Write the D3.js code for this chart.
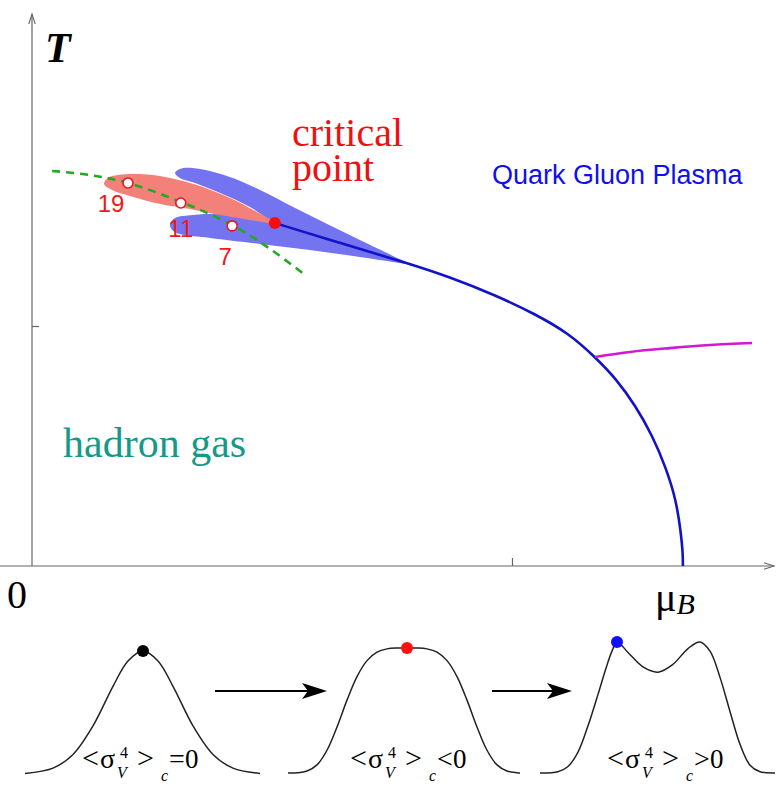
<!DOCTYPE html>
<html><head><meta charset="utf-8">
<script src="https://cdn.jsdelivr.net/npm/d3@7"></script>
<style>body{margin:0;background:#fff}</style>
</head><body>
<svg id="c" width="779" height="786"></svg>
<script>
// ---------------- data (mu_B, T in units of the axis tick) ----------------
const xTicks = [1];
const yTicks = [1];
const phaseBoundary = [[0.506,1.429],[0.663,1.333],[0.781,1.263],[0.871,1.204],[0.965,1.129],[1.048,1.05],[1.117,0.971],[1.173,0.871],[1.219,0.775],[1.256,0.671],[1.292,0.546],[1.321,0.408],[1.342,0.275],[1.352,0.1375],[1.356,0.05],[1.356,0]];
const magentaLine = [[1.173,0.871],[1.246,0.892],[1.329,0.908],[1.4125,0.921],[1.5,0.929]];
const freezeOut = [[0.042,1.646],[0.121,1.629],[0.2,1.596],[0.31,1.517],[0.417,1.421],[0.496,1.321],[0.569,1.2125]];
const redLobe = [[0.15,1.592],[0.158,1.617],[0.179,1.629],[0.225,1.633],[0.288,1.617],[0.35,1.583],[0.4125,1.533],[0.465,1.479],[0.506,1.429],[0.454,1.442],[0.392,1.4625],[0.329,1.4875],[0.267,1.508],[0.204,1.542],[0.167,1.567]];
const blueUpperLobe = [[0.298,1.6375],[0.308,1.654],[0.335,1.658],[0.406,1.625],[0.475,1.567],[0.544,1.496],[0.615,1.425],[0.683,1.358],[0.752,1.292],[0.7875,1.258],[0.704,1.3],[0.621,1.346],[0.558,1.3875],[0.506,1.429],[0.454,1.496],[0.392,1.554],[0.34,1.596],[0.308,1.617]];
const blueLowerLobe = [[0.2875,1.425],[0.298,1.45],[0.335,1.4625],[0.406,1.467],[0.475,1.45],[0.506,1.429],[0.6,1.367],[0.704,1.308],[0.7875,1.258],[0.752,1.267],[0.683,1.2875],[0.579,1.317],[0.475,1.342],[0.371,1.367],[0.308,1.383],[0.292,1.4]];
const energyLabels = ["19","11","7"];
const energyPoints = [[0.2,1.596],[0.31,1.5125],[0.417,1.417]];
const criticalPoint = [0.506,1.429];

// bottom sketches: [offset, relative height]
const sketch1 = [[-118,0.005],[-90,0.048],[-70,0.159],[-50,0.391],[-30,0.713],[-15,0.919],[0,1],[15,0.919],[30,0.713],[50,0.391],[70,0.159],[90,0.048],[117,0.005]];
const sketch2 = [[-119,0],[-110,0.002],[-100,0.016],[-90,0.065],[-80,0.182],[-70,0.368],[-60,0.583],[-50,0.771],[-40,0.899],[-30,0.967],[-20,0.993],[-10,1],[0,1],[10,1],[20,0.993],[30,0.967],[40,0.899],[50,0.771],[60,0.583],[70,0.368],[80,0.182],[90,0.065],[100,0.016],[110,0.002],[113,0]];
const sketch3 = [[-118,0],[-100,0.01],[-90,0.05],[-80,0.16],[-70,0.36],[-60,0.6],[-52,0.8],[-46,0.93],[-41,1.0],[-30,0.92],[-15,0.81],[0,0.77],[15,0.83],[30,0.95],[42,1.0],[52,0.93],[62,0.73],[72,0.47],[82,0.22],[92,0.06],[102,0.01],[117,0]];
const sketchDots = [[0,1],[0,1],[-41,1]];
const sketchDotColors = ["#000","#ff1010","#1010ff"];
const sketchOps = ["=","<",">"];

// ---------------- drawing ----------------
const svg = d3.select("#c");
const serif = "'Liberation Serif','Times New Roman',serif";
const sans = "'Liberation Sans',Arial,Helvetica,sans-serif";

const x = d3.scaleLinear().domain([0,1.5375]).range([32,770]);
const y = d3.scaleLinear().domain([0,2.3]).range([566,14]);

const defs = svg.append("defs");
defs.append("marker").attr("id","axarrow").attr("viewBox","-12 -5 14 10")
  .attr("refX",0).attr("refY",0).attr("markerWidth",14).attr("markerHeight",10)
  .attr("markerUnits","userSpaceOnUse").attr("orient","auto")
  .append("path").attr("d","M-10,-3.2L0,0L-10,3.2").attr("fill","none").attr("stroke","#666").attr("stroke-width",1.1);

// axes
const xAxis = svg.append("g").attr("transform",`translate(0,${y(0)})`)
  .call(d3.axisBottom(x).tickValues(xTicks).tickSize(-8).tickSizeOuter(0).tickFormat(""));
const yAxis = svg.append("g").attr("transform",`translate(${x(0)},0)`)
  .call(d3.axisLeft(y).tickValues(yTicks).tickSize(-7).tickSizeOuter(0).tickFormat(""));
[xAxis,yAxis].forEach(a=>{
  a.select(".domain").attr("stroke","#666").attr("stroke-width",1.2).attr("marker-end","url(#axarrow)");
  a.selectAll(".tick line").attr("stroke","#666").attr("stroke-width",1.2);
});
yAxis.select(".domain").attr("d",`M0,${y(0)}V${y(2.3)}`);
xAxis.select(".domain").attr("d",`M0,0H${x(1.5375)+4}`);

const line = d3.line().x(d=>x(d[0])).y(d=>y(d[1]));
const closed = d3.line().x(d=>x(d[0])).y(d=>y(d[1])).curve(d3.curveCatmullRomClosed.alpha(0.5));

svg.append("path").attr("d",closed(blueUpperLobe)).attr("fill","#7474f0");
svg.append("path").attr("d",closed(blueLowerLobe)).attr("fill","#7474f0");
svg.append("path").attr("d",closed(redLobe)).attr("fill","#f3817a");

svg.append("path").attr("d",line.curve(d3.curveCatmullRom.alpha(0.5))(freezeOut))
  .attr("fill","none").attr("stroke","#1faa1f").attr("stroke-width",2.6).attr("stroke-dasharray","8,6");

svg.append("path").attr("d",line.curve(d3.curveBasis)(phaseBoundary))
  .attr("fill","none").attr("stroke","#1212c8").attr("stroke-width",2.6);
svg.append("path").attr("d",line.curve(d3.curveMonotoneX)(magentaLine))
  .attr("fill","none").attr("stroke","#d317d3").attr("stroke-width",2.6);

svg.selectAll(".ep").data(energyPoints).enter().append("circle")
  .attr("cx",d=>x(d[0])).attr("cy",d=>y(d[1])).attr("r",5)
  .attr("fill","#fff").attr("stroke","#e8141c").attr("stroke-width",1.6);
const labelOff = [[-17,29],[0,34],[-7,39]];
svg.selectAll(".el").data(energyLabels).enter().append("text")
  .attr("x",(d,i)=>x(energyPoints[i][0])+labelOff[i][0])
  .attr("y",(d,i)=>y(energyPoints[i][1])+labelOff[i][1])
  .attr("text-anchor","middle").attr("font-family",sans).attr("font-size",24)
  .attr("fill","#f01818").text(d=>d);

svg.append("circle").attr("cx",x(criticalPoint[0])).attr("cy",y(criticalPoint[1])).attr("r",6).attr("fill","#ff0a0a");

// texts
svg.append("text").attr("x",45).attr("y",62).attr("font-family",serif).attr("font-style","italic")
  .attr("font-weight","bold").attr("font-size",42).text("T");
const cp = svg.append("text").attr("font-family",serif).attr("font-size",40).attr("fill","#f01010");
cp.append("tspan").attr("x",292).attr("y",146).text("critical");
cp.append("tspan").attr("x",292).attr("y",181).text("point");
svg.append("text").attr("x",492).attr("y",184).attr("font-family",sans).attr("font-size",27).attr("fill","#1010ee").text("Quark Gluon Plasma");
svg.append("text").attr("x",63).attr("y",457).attr("font-family",serif).attr("font-size",42).attr("fill","#17998a").text("hadron gas");
svg.append("text").attr("x",7).attr("y",608).attr("font-family",serif).attr("font-size",40).text("0");
const mu = svg.append("text").attr("x",655).attr("y",611).attr("font-family",serif);
mu.append("tspan").attr("font-size",40).text("μ");
mu.append("tspan").attr("font-size",30).attr("font-style","italic").attr("dy",3).text("B");

// bottom sketches
const panels = [{cx:143,base:774,h:123,lx:82},{cx:407,base:773,h:125,lx:350},{cx:658,base:773,h:131,lx:607}];
const sketches = [sketch1,sketch2,sketch3];
panels.forEach((p,i)=>{
  const sx = d3.scaleLinear().domain([-120,120]).range([p.cx-120,p.cx+120]);
  const sy = d3.scaleLinear().domain([0,1]).range([p.base,p.base-p.h]);
  const sl = d3.line().x(d=>sx(d[0])).y(d=>sy(d[1])).curve(d3.curveCatmullRom.alpha(0.5));
  svg.append("path").attr("d",sl(sketches[i])).attr("fill","none").attr("stroke","#222").attr("stroke-width",1.5);
  svg.append("circle").attr("cx",sx(sketchDots[i][0])).attr("cy",sy(sketchDots[i][1])).attr("r",6).attr("fill",sketchDotColors[i]);
  const g = svg.append("g").attr("transform",`translate(${p.lx},768)`).attr("font-family",serif);
  const parts = [
    {t:"<",dx:0,dy:0,fs:30},
    {t:"σ",dx:18,dy:0,fs:28},
    {t:"4",dx:38,dy:-10,fs:16},
    {t:"V",dx:35,dy:10,fs:16,it:true},
    {t:">",dx:55,dy:0,fs:30},
    {t:"c",dx:79,dy:13,fs:16,it:true},
    {t:sketchOps[i],dx:87,dy:0,fs:28},
    {t:"0",dx:103,dy:0,fs:27}
  ];
  parts.forEach(q=>{
    g.append("text").attr("x",q.dx).attr("y",q.dy).attr("font-size",q.fs)
      .attr("font-style",q.it?"italic":"normal").text(q.t);
  });
});

// transition arrows
const arrows = [[215,327,691],[492,572,691]];
arrows.forEach(a=>{
  svg.append("line").attr("x1",a[0]).attr("x2",a[1]-14).attr("y1",a[2]).attr("y2",a[2]).attr("stroke","#000").attr("stroke-width",2.2);
  svg.append("path").attr("d",`M${a[1]},${a[2]}L${a[1]-25},${a[2]-8}L${a[1]-19},${a[2]}L${a[1]-25},${a[2]+8}Z`).attr("fill","#000");
});
</script>
</body></html>
